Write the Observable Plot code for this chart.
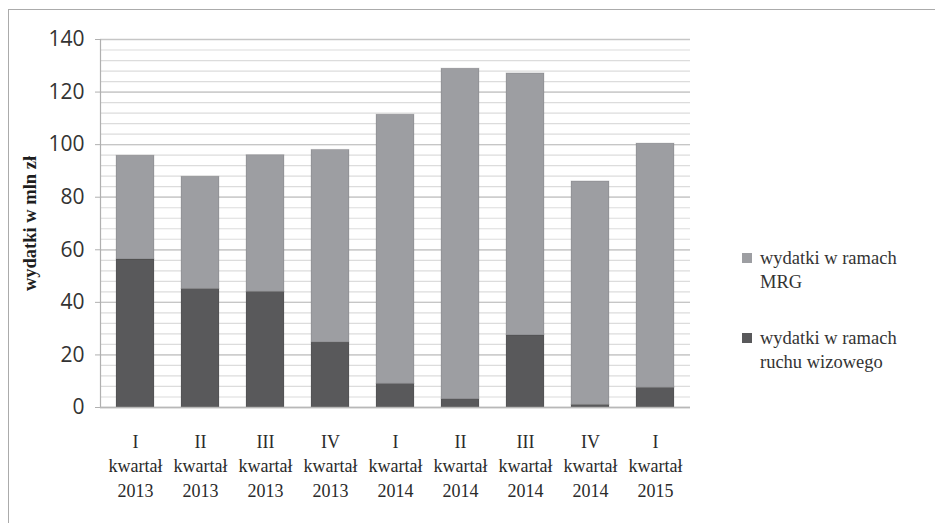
<!DOCTYPE html>
<html><head><meta charset="utf-8">
<script src="https://cdn.jsdelivr.net/npm/d3@7"></script>
<script src="https://cdn.jsdelivr.net/npm/@observablehq/plot@0.6"></script>
<style>
body{margin:0;background:#fff}
#wrap{position:relative;width:935px;height:523px;overflow:hidden;background:#fff}
#frame{position:absolute;left:8px;top:9px;width:960px;height:560px;border:1.5px solid #ababab;box-sizing:border-box;pointer-events:none}
#chart{position:absolute;left:0;top:0}
#legend{position:absolute;left:742px;top:246px;font-family:"Liberation Serif","Times New Roman",serif;font-size:18.5px;color:#333;line-height:24px}
.item{position:relative;padding-left:18px;margin-bottom:32px;width:170px}
.sw{position:absolute;left:0;top:7px;width:10px;height:10px}
g[aria-label="y-axis label"] text{font-family:"Liberation Serif",serif;font-weight:bold;font-size:18.5px;fill:#1e1e1e}
g[aria-label="x-axis tick label"] text{font-family:"Liberation Serif",serif;font-size:18px;fill:#2a2a2a}
</style>
</head><body>
<div id="wrap"><div id="chart"></div><div id="frame"></div><div id="legend"></div></div>
<script>
const quarters = ["I","II","III","IV","I","II","III","IV","I"];
const years = ["2013","2013","2013","2013","2014","2014","2014","2014","2015"];
const seriesNames = ["wydatki w ramach ruchu wizowego","wydatki w ramach MRG"];
const legendNames = ["wydatki w ramach MRG","wydatki w ramach ruchu wizowego"];
const seriesColors = ["#59595b","#9d9ea2"];
const wizowy = [56.3,45.1,44,24.7,9,3.2,27.5,1,7.5];
const mrg = [39.5,42.7,52,73.3,102.4,125.7,99.6,85,92.9];
const yTicks = [0,20,40,60,80,100,120,140];
const yMinor = d3.range(0,141,4);
const yLabel = "wydatki w mln zł";

const cats = quarters.map((q,i)=>`${q}\nkwartał\n${years[i]}`);
const rows = [];
cats.forEach((c,i)=>rows.push({cat:c, series:seriesNames[0], value:wizowy[i]}));
cats.forEach((c,i)=>rows.push({cat:c, series:seriesNames[1], value:mrg[i]}));

const chart = Plot.plot({
  width:935, height:523,
  marginLeft:100, marginRight:245, marginTop:39, marginBottom:116,
  style:{fontFamily:"'Open Sans', sans-serif", fontSize:"18px", color:"#333", background:"transparent"},
  x:{domain:cats, paddingInner:0.42, paddingOuter:0.21, label:null},
  y:{domain:[0,140], label:yLabel},
  color:{domain:seriesNames, range:seriesColors},
  marks:[
    Plot.gridY(yMinor,{stroke:"#dcdcdc", strokeOpacity:1, strokeWidth:1.2}),
    Plot.gridY(yTicks,{stroke:"#c6c6c6", strokeOpacity:1, strokeWidth:1.3}),
    Plot.barY(rows,{x:"cat", y:"value", fill:"series", stroke:"#000", strokeOpacity:0.12, strokeWidth:1}),
    Plot.axisY({ticks:yTicks, tickSize:5, tickPadding:11, stroke:"#b0b0b0", fontSize:21, fontFamily:"'Open Sans', sans-serif", label:yLabel, labelAnchor:"center", labelArrow:"none", labelOffset:78}),
    Plot.frame({anchor:"left", stroke:"#b0b0b0", strokeWidth:1.2}),
    Plot.ruleY([0],{stroke:"#b8b8b8", strokeWidth:1.3}),
    Plot.axisX({tickSize:0, tickPadding:23, lineHeight:1.36, label:null})
  ]
});
document.getElementById("chart").appendChild(chart);

const leg = document.getElementById("legend");
legendNames.forEach(n=>{
  const idx = seriesNames.indexOf(n);
  const d = document.createElement("div");
  d.className="item";
  d.innerHTML = `<span class="sw" style="background:${seriesColors[idx]}"></span>${n}`;
  leg.appendChild(d);
});
</script>
</body></html>
